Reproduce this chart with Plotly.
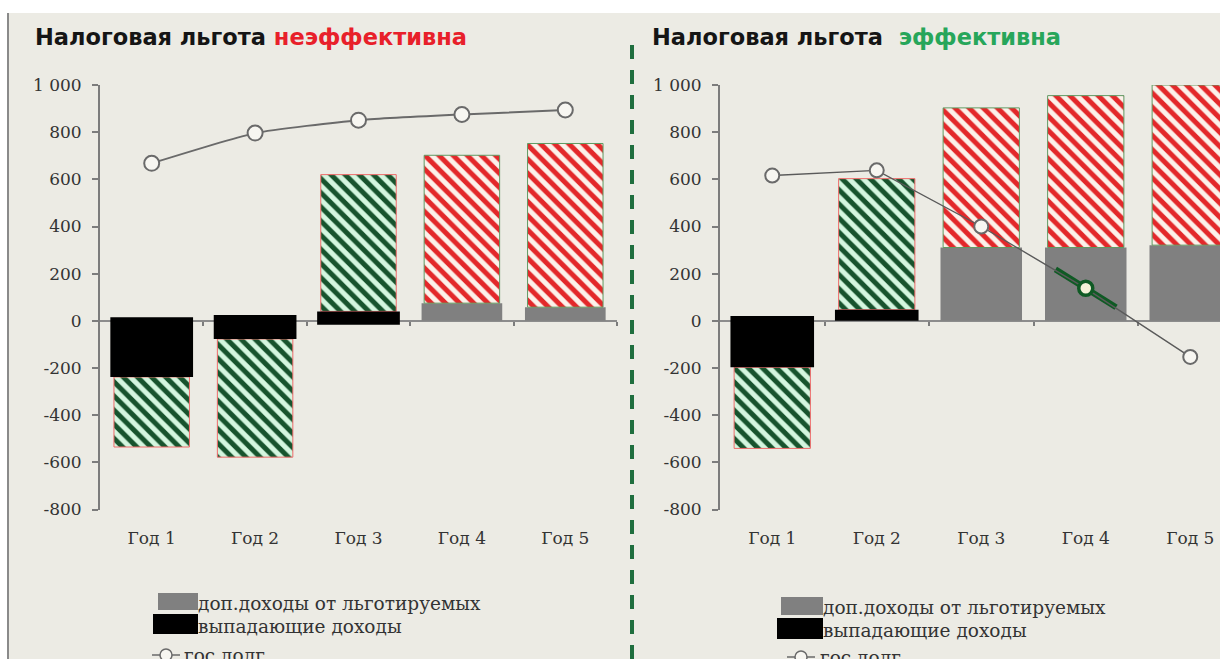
import numpy as np
import plotly.graph_objects as go

W, H = 1220, 659

years = ["Год 1", "Год 2", "Год 3", "Год 4", "Год 5"]
y_tick_vals = [1000, 800, 600, 400, 200, 0, -200, -400, -600, -800]
y_tick_text = ["1 000", "800", "600", "400", "200", "0", "-200", "-400", "-600", "-800"]

# Left panel: relief is ineffective
l_lost_top = [15, 25, 40, None, None]
l_lost_bottom = [-238, -77, -17, None, None]
l_green_from = [-238, -77, 40, None, None]
l_green_to = [-535, -578, 620, None, None]
l_extra = [None, None, None, 75, 58]
l_red_top = [None, None, None, 702, 752]
l_debt = [668, 796, 851, 875, 894]

# Right panel: relief is effective
r_lost_top = [21, 47, None, None, None]
r_lost_bottom = [-197, 0, None, None, None]
r_green_from = [-197, 47, None, None, None]
r_green_to = [-541, 603, None, None, None]
r_extra = [None, None, 311, 311, 321]
r_red_top = [None, None, 903, 955, 1000]
r_debt = [616, 638, 400, 138, -153]
r_turn = 3  # year where the debt trend is marked

BG = "#ECEBE4"
AXIS = "#7c7c7c"
TXT = "#333333"
SERIF = "DejaVu Serif"
SANS = "DejaVu Sans"


def px(x):
    return x / W


def py(y):
    return 1 - y / H


def span(a, b):
    base, length = [], []
    for u, v in zip(a, b):
        if u is None or v is None:
            base.append(None)
            length.append(None)
        else:
            base.append(min(u, v))
            length.append(abs(u - v))
    return base, length


xs = np.arange(len(years))
bounds = xs + 0.5
y_dom = [py(509.5), py(85)]
y_min, y_max = -800, 1000
zero_pos = y_dom[0] + (0 - y_min) / (y_max - y_min) * (y_dom[1] - y_dom[0])

fig = go.Figure()

red_pattern = dict(shape="\\", fgcolor="#e3282a", bgcolor="#fcf1ea", fgopacity=1,
                   size=10, solidity=0.5)
green_pattern = dict(shape="\\", fgcolor="#17532d", bgcolor="#d4f6df", fgopacity=1,
                     size=10, solidity=0.5)


def add_panel(xa, ya, lost_top, lost_bottom, g_from, g_to, extra, red_top):
    zeros = [0 if e is not None else None for e in extra]
    b, l = span(zeros, extra)
    fig.add_trace(go.Bar(x=xs, y=l, base=b, width=0.78, marker=dict(color="#808080", line_width=0),
                         xaxis=xa, yaxis=ya, showlegend=False))
    b, l = span(extra, red_top)
    fig.add_trace(go.Bar(x=xs, y=l, base=b, width=0.73,
                         marker=dict(color="#fcf1ea", line=dict(color="#5f9a63", width=1),
                                     pattern=red_pattern),
                         xaxis=xa, yaxis=ya, showlegend=False))
    b, l = span(g_from, g_to)
    fig.add_trace(go.Bar(x=xs, y=l, base=b, width=0.73,
                         marker=dict(color="#d4f6df", line=dict(color="#f06a6a", width=1),
                                     pattern=green_pattern),
                         xaxis=xa, yaxis=ya, showlegend=False))
    b, l = span(lost_bottom, lost_top)
    fig.add_trace(go.Bar(x=xs, y=l, base=b, width=0.8, marker=dict(color="#000000", line_width=0),
                         xaxis=xa, yaxis=ya, showlegend=False))


add_panel("x", "y", l_lost_top, l_lost_bottom, l_green_from, l_green_to, l_extra, l_red_top)
add_panel("x2", "y2", r_lost_top, r_lost_bottom, r_green_from, r_green_to, r_extra, r_red_top)

# trend marker across the turning year on the right panel
half = 0.29
slope = (r_debt[r_turn + 1] - r_debt[r_turn - 1]) / 2
fig.add_trace(go.Scatter(x=[r_turn - half, r_turn + half],
                         y=[r_debt[r_turn] - slope * half, r_debt[r_turn] + slope * half],
                         mode="lines", line=dict(color="#0f5a24", width=6),
                         xaxis="x2", yaxis="y2", showlegend=False))

# public debt lines
fig.add_trace(go.Scatter(x=xs, y=l_debt, mode="lines+markers",
                         line=dict(color="#6a6a6a", width=2, shape="spline", smoothing=0.5),
                         marker=dict(symbol="circle", size=15, color="#f7f6f1",
                                     line=dict(color="#6a6a6a", width=2)),
                         xaxis="x3", yaxis="y", showlegend=False))
ring_col = ["#6a6a6a"] * len(years)
ring_w = [2] * len(years)
fill_col = ["#f7f6f1"] * len(years)
ring_col[r_turn] = "#0f5a24"
ring_w[r_turn] = 3.5
fill_col[r_turn] = "#f4f1d8"
fig.add_trace(go.Scatter(x=xs, y=r_debt, mode="lines+markers",
                         line=dict(color="#5a5a5a", width=1.4),
                         marker=dict(symbol="circle", size=14, color=fill_col,
                                     line=dict(color=ring_col, width=ring_w)),
                         xaxis="x4", yaxis="y2", showlegend=False))

tickfont = dict(family=SERIF, size=17, color=TXT)


def yaxis_cfg(anchor):
    return dict(domain=y_dom, range=[y_min, y_max], anchor=anchor, tickvals=y_tick_vals,
                ticktext=y_tick_text, ticks="outside", ticklen=6, tickwidth=2, tickcolor=AXIS,
                showline=True, linecolor=AXIS, linewidth=2, showgrid=False, zeroline=False,
                tickfont=tickfont, ticklabelstandoff=7, automargin=False)


def xaxis_cfg(dom, rng, anchor):
    return dict(domain=dom, range=rng, anchor=anchor, tickvals=list(xs), ticktext=years,
                ticks="", showline=False, showgrid=False, zeroline=False,
                tickfont=tickfont, ticklabelstandoff=16, automargin=False)


def zero_axis_cfg(over):
    return dict(overlaying=over, matches=over, anchor="free", position=zero_pos,
                tickvals=list(bounds), ticks="outside", ticklen=4, tickwidth=1.5, tickcolor=AXIS,
                showticklabels=False, showline=True, linecolor="#8c8c8c", linewidth=2,
                showgrid=False, zeroline=False, layer="below traces", automargin=False)


l_dom = [px(100), px(617)]
r_dom = [px(720), 1.0]
r_end = -0.5 + (W - 720) / 104.5

annotations = [
    dict(x=px(33), y=py(37), xref="paper", yref="paper", xanchor="left", yanchor="middle",
         showarrow=False, font=dict(family=SANS, size=22.5, color="#151515"),
         text="<b>Налоговая льгота <span style='color:#e8202a'>неэффективна</span></b>"),
    dict(x=px(650), y=py(37), xref="paper", yref="paper", xanchor="left", yanchor="middle",
         showarrow=False, font=dict(family=SANS, size=22.5, color="#151515"),
         text="<b>Налоговая льгота\u00a0 <span style='color:#27a65a'>эффективна</span></b>"),
]

shapes = [
    dict(type="rect", xref="paper", yref="paper", x0=px(9), x1=1, y0=0, y1=py(13),
         fillcolor=BG, line_width=0, layer="below"),
    dict(type="line", xref="paper", yref="paper", x0=px(8), x1=px(8), y0=0, y1=py(13),
         line=dict(color="#8a8a8a", width=2)),
    dict(type="line", xref="paper", yref="paper", x0=px(632), x1=px(632), y0=0, y1=py(42),
         line=dict(color="#1f6e3e", width=4, dash="14px,11px")),
]

legend_labels = ["доп.доходы от льготируемых", "выпадающие доходы", "гос.долг"]


def legend_block(sw_right, gray_left, black_left, rows, text_x, line_x0, line_x1):
    (g0, g1), (b0, b1), ty = rows
    shapes.append(dict(type="rect", xref="paper", yref="paper", x0=px(gray_left), x1=px(sw_right),
                       y0=py(g1), y1=py(g0), fillcolor="#808080", line_width=0))
    shapes.append(dict(type="rect", xref="paper", yref="paper", x0=px(black_left), x1=px(sw_right),
                       y0=py(b1), y1=py(b0), fillcolor="#000000", line_width=0))
    shapes.append(dict(type="line", xref="paper", yref="paper", x0=px(line_x0), x1=px(line_x1),
                       y0=py(ty[2]), y1=py(ty[2]), line=dict(color="#6a6a6a", width=1.5)))
    cx = (line_x0 + line_x1) / 2
    shapes.append(dict(type="circle", xref="paper", yref="paper", x0=px(cx - 6), x1=px(cx + 6),
                       y0=py(ty[2] + 6), y1=py(ty[2] - 6), fillcolor="#f7f6f1",
                       line=dict(color="#6a6a6a", width=1.5)))
    for i, lab in enumerate(legend_labels):
        annotations.append(dict(x=px(text_x[i]), y=py(ty[i]), xref="paper", yref="paper",
                                xanchor="left", yanchor="middle", showarrow=False,
                                font=dict(family=SERIF, size=18.5, color=TXT), text=lab))


legend_block(198, 158, 153, ((593, 610), (614, 634), (603, 626, 655)), (196, 196, 182), 152, 180)
legend_block(823, 781, 777, ((597, 615), (618, 639), (607, 630, 657)), (821, 821, 818), 787, 815)

fig.update_layout(
    width=W, height=H, margin=dict(l=0, r=0, t=0, b=0, autoexpand=False),
    paper_bgcolor="#ffffff", plot_bgcolor="rgba(0,0,0,0)",
    barmode="overlay", showlegend=False,
    xaxis=xaxis_cfg(l_dom, [-0.5, 4.5], "y"),
    yaxis=yaxis_cfg("x"),
    xaxis2=xaxis_cfg(r_dom, [-0.5, r_end], "y2"),
    yaxis2=yaxis_cfg("x2"),
    xaxis3=zero_axis_cfg("x"),
    xaxis4=zero_axis_cfg("x2"),
    annotations=annotations, shapes=shapes,
)

fig.write_html("out.html")
